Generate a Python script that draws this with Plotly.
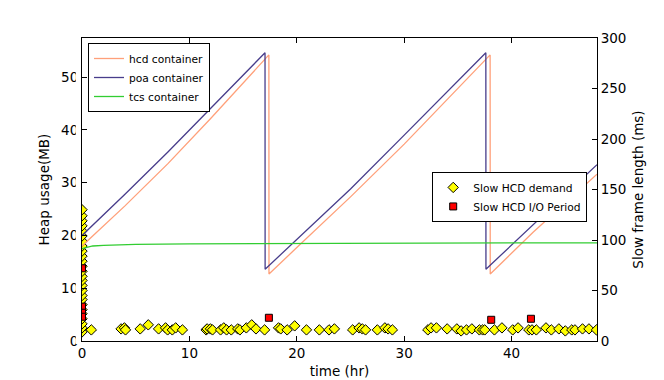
import plotly.graph_objects as go

# Heap usage lines (MB)
poa_t = [0, 4, 8, 12, 17.04, 17.05, 20, 25, 30, 37.6, 37.61, 42, 47.95]
poa_v = [20.0, 27.8, 35.8, 44.2, 54.6, 13.6, 19.2, 28.8, 39.0, 54.6, 13.6, 22.0, 33.4]
hcd_t = [0, 4, 8, 12, 17.4, 17.41, 20, 25, 30, 38.0, 38.01, 42, 47.95]
hcd_v = [18.0, 25.6, 33.6, 42.2, 54.2, 12.7, 17.7, 27.3, 37.3, 54.2, 12.7, 20.6, 31.6]
tcs_t = [0, 0.5, 1, 2, 3, 5, 10, 20, 30, 40, 47.95]
tcs_v = [17.5, 17.8, 18.0, 18.1, 18.2, 18.3, 18.4, 18.5, 18.55, 18.6, 18.6]

# Slow HCD demand (ms)
demand_t = [0]*26 + [
    0.87, 3.64, 3.95, 4.05, 5.42, 6.17, 7.13, 7.78, 7.97, 8.41, 8.72, 9.35, 11.56,
    11.65, 11.96, 12.15, 12.9, 13.2, 13.46, 13.9, 14.5, 14.7, 15.3, 15.8, 16.2, 17.0,
    18.3, 18.5, 19.1, 19.8, 20.9, 22.1, 23.0,
    23.5, 25.2, 25.8, 26.1, 26.4, 27.5, 28.2, 28.5, 28.9, 32.2, 32.5, 33.0, 34.0,
    34.9, 35.3, 35.8, 36.3, 37.0, 37.3, 37.5, 38.4, 39.1, 40.1, 40.6, 41.6, 41.9,
    42.3, 43.2, 43.7, 44.4, 45.0, 45.6, 45.9, 46.6, 47.2, 47.9]
demand_v = [9, 13, 17, 22, 27, 31, 36, 41, 45, 50, 55, 60, 64, 69, 74, 79, 84, 89,
            94, 99, 104, 109, 114, 119, 124, 130] + [
    11, 12, 13, 11, 12, 16, 12, 13, 11, 11, 13, 11, 11,
    12, 12, 11, 11, 13, 11, 11, 12, 11, 13, 16, 12, 11,
    13, 12, 11, 15, 11, 11, 11,
    12, 11, 13, 12, 11, 11, 13, 12, 11, 11, 13, 13, 12,
    12, 10, 11, 12, 11, 11, 11, 11, 13, 11, 13, 11, 11,
    11, 13, 11, 12, 10, 11, 11, 12, 12, 11]

# Slow HCD I/O period (ms)
io_t = [0, 0, 0, 0, 17.4, 38.1, 41.8]
io_v = [72, 34, 28, 24, 23, 21, 22]

FONT = "DejaVu Sans"
TICK = 13.5
LEG = 10.7

fig = go.Figure()
fig.add_trace(go.Scatter(x=demand_t, y=demand_v, mode="markers", name="Slow HCD demand",
                         yaxis="y", legend="legend2", cliponaxis=True,
                         marker=dict(symbol="diamond", size=8, color="#FFFF00",
                                     line=dict(color="black", width=1))))
fig.add_trace(go.Scatter(x=io_t, y=io_v, mode="markers", name="Slow HCD I/O Period",
                         yaxis="y", legend="legend2", cliponaxis=True,
                         marker=dict(symbol="square", size=7, color="#FF0000",
                                     line=dict(color="black", width=1))))
fig.add_trace(go.Scatter(x=hcd_t, y=hcd_v, mode="lines", name="hcd container",
                         yaxis="y2", line=dict(color="#FFA07A", width=1.3), legend="legend"))
fig.add_trace(go.Scatter(x=poa_t, y=poa_v, mode="lines", name="poa container",
                         yaxis="y2", line=dict(color="#483D8B", width=1.3), legend="legend"))
fig.add_trace(go.Scatter(x=tcs_t, y=tcs_v, mode="lines", name="tcs container",
                         yaxis="y2", line=dict(color="#32CD32", width=1.3), legend="legend"))

axis_common = dict(showgrid=False, zeroline=False, showline=True, linecolor="black",
                   linewidth=1, ticks="inside", ticklen=5, tickcolor="black",
                   automargin=False,
                   tickfont=dict(family=FONT, size=TICK, color="black"))

# plot area is 515 x 303 px; page body adds an 8px offset
fig.update_layout(
    width=656, height=372,
    margin=dict(l=74, r=67, t=30, b=39),
    paper_bgcolor="white", plot_bgcolor="white",
    font=dict(family=FONT, size=TICK, color="black"),
    xaxis=dict(range=[0, 47.95], tickvals=[0, 10, 20, 30, 40], mirror="ticks",
               title=dict(text="time (hr)", font=dict(family=FONT, size=TICK), standoff=6),
               **axis_common),
    yaxis=dict(range=[0, 300], tickvals=[0, 50, 100, 150, 200, 250, 300], side="right",
               title=dict(text="Slow frame length (ms)", font=dict(family=FONT, size=TICK), standoff=8),
               **axis_common),
    yaxis2=dict(range=[0, 57.4], tickvals=[0, 10, 20, 30, 40, 50],
                overlaying="y", side="left",
                title=dict(text="Heap usage(MB)", font=dict(family=FONT, size=TICK), standoff=8),
                **axis_common),
    legend=dict(x=0.0117, y=0.9835, xanchor="left", yanchor="top",
                bordercolor="black", borderwidth=1, bgcolor="white",
                font=dict(family=FONT, size=LEG), itemwidth=30, tracegroupgap=0),
    legend2=dict(x=0.68, y=0.558, xanchor="left", yanchor="top",
                 bordercolor="black", borderwidth=1, bgcolor="white",
                 font=dict(family=FONT, size=LEG), itemwidth=30, tracegroupgap=0),
    showlegend=True,
    shapes=[dict(type="rect", xref="paper", yref="paper", x0=-0.012, x1=-0.002,
                 y0=-0.01, y1=1.0, fillcolor="white", line=dict(width=0), layer="above")],
)

fig.write_html("out.html")
